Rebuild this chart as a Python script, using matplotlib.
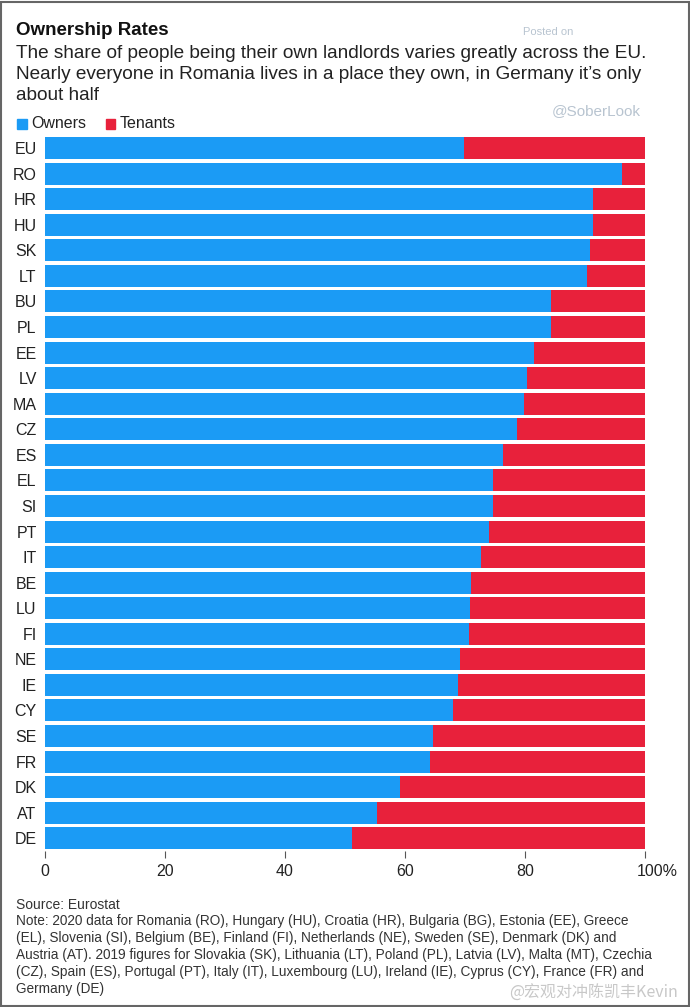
import matplotlib.pyplot as plt
import matplotlib.transforms as mtransforms
from matplotlib.patches import Rectangle

countries = ['EU', 'RO', 'HR', 'HU', 'SK', 'LT', 'BU', 'PL', 'EE', 'LV', 'MA', 'CZ', 'ES', 'EL',
             'SI', 'PT', 'IT', 'BE', 'LU', 'FI', 'NE', 'IE', 'CY', 'SE', 'FR', 'DK', 'AT', 'DE']
owners = [69.8, 96.2, 91.3, 91.3, 90.9, 90.4, 84.3, 84.3, 81.5, 80.3, 79.8, 78.7, 76.3, 74.6,
          74.6, 74.0, 72.6, 71.0, 70.9, 70.7, 69.1, 68.8, 68.0, 64.6, 64.1, 59.2, 55.3, 51.1]
tenants = [100 - v for v in owners]
xticks = [0, 20, 40, 60, 80, 100]
xticklabels = ['0', '20', '40', '60', '80', '100%']

note_lines = [
    'Note: 2020 data for Romania (RO), Hungary (HU), Croatia (HR), Bulgaria (BG), Estonia (EE), Greece',
    '(EL), Slovenia (SI), Belgium (BE), Finland (FI), Netherlands (NE), Sweden (SE), Denmark (DK) and',
    'Austria (AT). 2019 figures for Slovakia (SK), Lithuania (LT), Poland (PL), Latvia (LV), Malta (MT), Czechia',
    '(CZ), Spain (ES), Portugal (PT), Italy (IT), Luxembourg (LU), Ireland (IE), Cyprus (CY), France (FR) and',
    'Germany (DE)',
]

blue = '#1b9bf5'
red = '#e8213b'
plt.rcParams['font.family'] = ['Liberation Sans', 'DejaVu Sans']

fig = plt.figure(figsize=(6.9, 10.07), dpi=100)
ax = fig.add_axes([0.0652, 0.1549, 0.8696, 0.7107])

ypos = list(range(len(countries)))
ax.barh(ypos, owners, height=0.86, color=blue)
ax.barh(ypos, tenants, left=owners, height=0.86, color=red)

ax.set_ylim(len(countries) - 0.5, -0.5)
ax.set_xlim(0, 100)
ax.set_yticks(ypos)
ax.set_yticklabels(countries, fontsize=11.5, color='#222222')
ax.tick_params(axis='y', length=0, pad=6)
ax.set_xticks(xticks)
ax.set_xticklabels(xticklabels, fontsize=11.5, color='#222222')
ax.tick_params(axis='x', length=5, width=0.8, color='#555555', pad=4)
for s in ax.spines.values():
    s.set_visible(False)
lab = ax.get_xticklabels()[-1]
lab.set_transform(lab.get_transform() + mtransforms.ScaledTranslation(12 / 100, 0, fig.dpi_scale_trans))

# header
fig.text(0.023, 0.965, 'Ownership Rates', fontsize=13.5, fontweight='bold', color='#111111', va='baseline')
fig.text(0.023, 0.955,
         'The share of people being their own landlords varies greatly across the EU.\n'
         'Nearly everyone in Romania lives in a place they own, in Germany it\u2019s only\n'
         'about half',
         fontsize=13.7, color='#222222', va='top', linespacing=1.3)

# legend
fig.patches.append(Rectangle((0.025, 0.872), 0.014, 0.0096, transform=fig.transFigure, color=blue))
fig.text(0.046, 0.877, 'Owners', fontsize=11.5, va='center', color='#222222')
fig.patches.append(Rectangle((0.153, 0.872), 0.014, 0.0096, transform=fig.transFigure, color=red))
fig.text(0.174, 0.877, 'Tenants', fontsize=11.5, va='center', color='#222222')

# watermarks
fig.text(0.758, 0.965, 'Posted on', fontsize=8, color='#b8c4d0')
fig.text(0.80, 0.886, '@SoberLook', fontsize=11, color='#b8c4d0')
fig.text(0.738, 0.009, '@宏观对冲陈凯丰Kevin', fontsize=11.5, color='#c8c8c8',
         family=['Noto Sans CJK SC', 'DejaVu Sans'])

# footer
fig.text(0.023, 0.097, 'Source: Eurostat', fontsize=10, color='#333333', va='baseline')
for i, line in enumerate(note_lines):
    fig.text(0.023, 0.0815 - i * 0.0169, line, fontsize=9.8, color='#333333', va='baseline')

# frame
fig.patches.append(Rectangle((0.001, 0.001), 0.997, 0.997, transform=fig.transFigure,
                             fill=False, edgecolor='#666666', linewidth=1.5))

fig.savefig('out.png', dpi=100)
